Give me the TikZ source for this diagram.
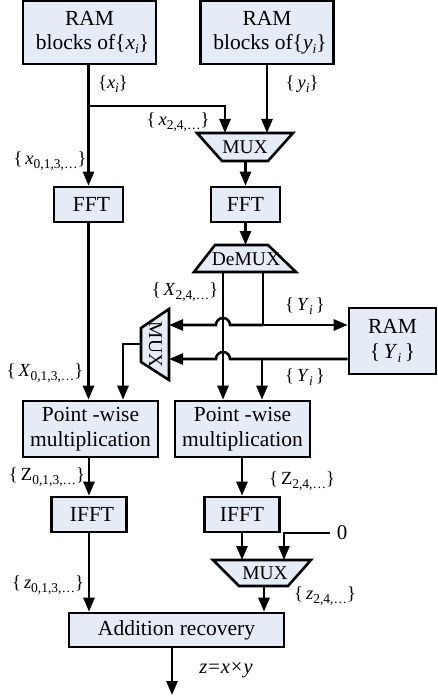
\documentclass[tikz,border=0pt]{standalone}
\usepackage{fontspec}
\setmainfont{Liberation Serif}
\usetikzlibrary{arrows.meta,calc}
\definecolor{boxfill}{RGB}{230,236,246}
\newcommand\boxfont{\fontsize{21.5}{24.5}\selectfont}
\newcommand\lblfont{\fontsize{18.5}{20}\selectfont}
\newcommand\muxfont{\fontsize{19.5}{20}\selectfont}
\newcommand\sbs[1]{\raisebox{-4pt}{\fontsize{13.5}{14}\selectfont #1}}
\newcommand\ix[1]{\textit{#1}}
\begin{document}
\begin{tikzpicture}[x=1pt,y=-1pt,
  blk/.style={draw, line width=2.6pt, fill=boxfill, font=\boxfont, align=center, inner sep=0pt},
  trap/.style={draw, line width=2.6pt, fill=boxfill, line join=miter},
  muxtext/.style={font=\muxfont, inner sep=0pt},
  wire/.style={line width=2.6pt},
  arr/.style={wire, -{Triangle[length=14pt,width=11pt]}},
  lbl/.style={font=\lblfont, inner sep=0pt}]
\useasboundingbox (0,0) rectangle (438,698);

% ---- blocks ----
\node[blk, minimum width=133pt, minimum height=63pt] (ramx) at (89.5,32.5)
  {RAM\\\hspace*{6pt}blocks of\{\ix{x}\sbs{\ix{i}}\}};
\node[blk, minimum width=133pt, minimum height=63pt] (ramy) at (267,32.5)
  {RAM\\\hspace*{6pt}blocks of\{\ix{y}\sbs{\ix{i}}\}};
\node[blk, minimum width=69pt, minimum height=35pt] (fft1) at (88.5,204.5) {\hspace*{6pt}FFT};
\node[blk, minimum width=69pt, minimum height=35pt] (fft2) at (245.5,204.5) {FFT};
\node[blk, minimum width=87pt, minimum height=66pt] (ramY) at (392.5,341)
  {RAM\\\{\,\ix{Y}\sbs{\ix{i}}\,\}};
\node[blk, minimum width=135pt, minimum height=56pt] (pw1) at (90.5,429)
  {Point -wise\\multiplication};
\node[blk, minimum width=135pt, minimum height=56pt] (pw2) at (242.5,429)
  {Point -wise\\multiplication};
\node[blk, minimum width=75pt, minimum height=35pt] (ifft1) at (89,514.5) {\hspace*{6pt}IFFT};
\node[blk, minimum width=75pt, minimum height=35pt] (ifft2) at (242,514.5) {IFFT};
\node[blk, minimum width=215pt, minimum height=34pt] (ar) at (176.5,630) {Addition recovery};

% ---- multiplexers ----
\draw[trap] (197,133) -- (293,133) -- (268,161) -- (222,161) -- cycle;
\node[muxtext] (mux1) at (245,147) {MUX};
\draw[trap] (215,245) -- (268,245) -- (296,272) -- (194,272) -- cycle;
\node[muxtext] (demux) at (246,259.5) {DeMUX};
\draw[trap] (169,309) -- (169,380) -- (141,362) -- (141,328) -- cycle;
\node[muxtext, rotate=-90] (mux2) at (155.5,344.5) {MUX};
\draw[trap] (213,560) -- (311,560) -- (288,586) -- (239,586) -- cycle;
\node[muxtext] (mux3) at (265,573) {MUX};

% ---- ports and junctions ----
\coordinate (bx)  at (88.5,106);
\coordinate (m1a) at (225,133);
\coordinate (m1b) at (267,133);
\coordinate (m1o) at (245.5,161);
\coordinate (dmi) at (245.5,245);
\coordinate (dmL) at (223,272);
\coordinate (dmR) at (263,272);
\coordinate (j1)  at (263,325);
\coordinate (h1)  at (230,325);
\coordinate (m2a) at (169,325);
\coordinate (j2)  at (262,359);
\coordinate (h2)  at (230,359);
\coordinate (m2b) at (169,359);
\coordinate (m2o) at (141,344);
\coordinate (m2k) at (123,344);
\coordinate (m3a) at (242,560);
\coordinate (m3b) at (284,560);
\coordinate (m3o) at (264,586);
\coordinate (zin) at (330,533);
\coordinate (zout) at (172,695);

% ---- connectors ----
\draw[arr] (ramx.south -| fft1) -- (fft1.north);
\draw[arr] (bx) -| (m1a);
\draw[arr] (ramy.south) -- (m1b);
\draw[arr] (m1o) -- (fft2.north);
\draw[arr] (fft2.south) -- (dmi);
\draw[arr] (dmL) -- (dmL |- pw2.north);
\draw[wire] (dmR) -- (j1);
\draw[arr] (j1) -- (j1 -| ramY.west);
\draw[arr] (j1) -- (h1) arc[start angle=0, end angle=180, radius=7pt] -- (m2a);
\draw[arr] (j2 -| ramY.west) -- (h2) arc[start angle=0, end angle=180, radius=7pt] -- (m2b);
\draw[arr] (j2) -- (j2 |- pw2.north);
\draw[arr] (m2o) -- (m2k) -- (m2k |- pw1.north);
\draw[arr] (fft1.south) -- (fft1.south |- pw1.north);
\draw[arr] (pw1.south -| ifft1) -- (ifft1.north);
\draw[arr] (pw2.south -| ifft2) -- (ifft2.north);
\draw[arr] (ifft2.south) -- (m3a);
\draw[arr] (zin) -| (m3b);
\draw[arr] (m3o) -- (m3o |- ar.north);
\draw[arr] (ifft1.south) -- (ifft1.south |- ar.north);
\draw[arr] (ar.south -| zout) -- (zout);

% ---- labels ----
\node[lbl] (lxi)  at (113,84)  {\{\ix{x}\sbs{\ix{i}}\}};
\node[lbl] (lyi)  at (302,84)  {\{\,\ix{y}\sbs{\ix{i}}\}};
\node[lbl] (lx24) at (178,122) {\{\,\ix{x}\sbs{2,4,\ldots}\}};
\node[lbl] (lx013) at (50,161) {\{\,\ix{x}\sbs{0,1,3,\ldots}\}};
\node[lbl] (lX24) at (185,292) {\{\,\ix{X}\sbs{2,4,\ldots}\}};
\node[lbl] (lY1)  at (305,306) {\{\,\ix{Y}\sbs{\ix{i}}\,\}};
\node[lbl] (lY2)  at (305,377) {\{\,\ix{Y}\sbs{\ix{i}}\,\}};
\node[lbl] (lX013) at (45,373) {\{\,\ix{X}\sbs{0,1,3,\ldots}\}};
\node[lbl] (lZ013) at (47,477) {\{\,Z\sbs{0,1,3,\ldots}\}};
\node[lbl] (lZ24) at (302,481) {\{\,Z\sbs{2,4,\ldots}\}};
\node[lbl] (lz013) at (48,585) {\{\,\ix{z}\sbs{0,1,3,\ldots}\}};
\node[lbl] (lz24) at (325,596) {\{\,\ix{z}\sbs{2,4,\ldots}\}};
\node[lbl, font=\fontsize{21}{22}\selectfont] (lzero) at (342,533) {0};
\node[lbl, font=\fontsize{20.5}{22}\selectfont] (lout) at (226,670)
  {\ix{z}\kern1pt=\kern1pt\ix{x}\kern1pt×\kern1pt\ix{y}};
\end{tikzpicture}
\end{document}
